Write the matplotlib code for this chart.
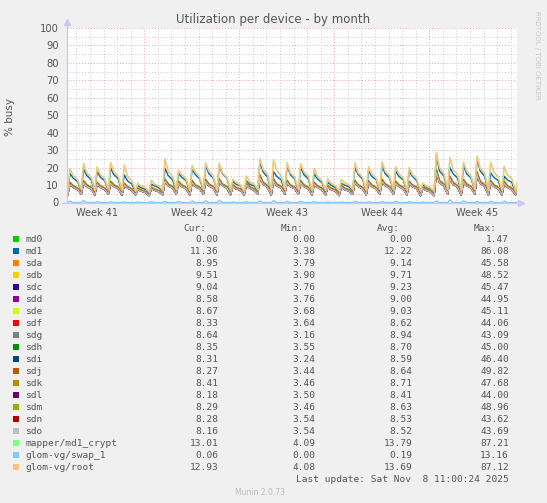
import numpy as np
import matplotlib
matplotlib.use('Agg')
import matplotlib.pyplot as plt
from matplotlib.patches import Rectangle
from matplotlib.lines import Line2D

W, H = 547, 503

# per-day readings (34 days, left to right)
root_peak = [19.0, 22.5, 20.0, 22.8, 21.5, 11.0, 12.5, 24.7, 18.5, 20.8, 22.5, 22.0, 13.4, 14.9, 24.8, 24.5, 22.5,
             22.0, 19.5, 13.4, 13.2, 22.5, 20.3, 23.0, 20.5, 19.7, 11.0, 28.5, 25.4, 22.8, 26.7, 22.8, 20.5, 13.0]
root_shoulder = [15.5, 17.0, 16.0, 17.5, 15.0, 9.5, 10.5, 18.0, 16.0, 17.5, 18.0, 17.0, 11.5, 12.0, 19.0, 18.5, 17.0,
                 17.5, 15.0, 11.0, 11.5, 17.0, 16.5, 18.0, 16.5, 16.0, 9.5, 20.0, 19.0, 18.0, 19.5, 17.5, 16.0, 12.0]
root_evening = [13.0, 14.5, 13.5, 15.0, 12.5, 8.5, 9.5, 15.0, 13.5, 14.5, 15.0, 14.5, 10.0, 10.5, 16.0, 15.5, 14.5,
                15.0, 12.5, 9.5, 10.0, 14.5, 14.0, 15.0, 14.0, 13.5, 8.5, 16.5, 16.0, 15.0, 16.5, 14.5, 13.5, 10.5]
root_low = [7.0, 7.5, 7.0, 7.5, 7.0, 6.5, 6.0, 7.0, 7.5, 7.0, 7.5, 7.0, 7.0, 6.5, 7.5, 7.0, 7.5,
            7.5, 7.0, 7.0, 6.5, 7.5, 7.0, 7.5, 7.5, 7.0, 6.5, 6.5, 7.5, 7.0, 7.5, 7.0, 7.0, 6.5]
mapper_peak = [19.5, 22.2, 20.4, 23.0, 21.2, 11.3, 12.8, 25.2, 18.3, 21.3, 22.8, 22.6, 13.2, 15.2, 25.2, 24.0, 22.9,
               22.4, 19.2, 13.7, 13.0, 22.9, 20.6, 23.4, 20.2, 20.1, 11.2, 28.2, 25.9, 23.2, 26.4, 23.3, 20.9, 13.2]
md1_peak = [16.7, 19.0, 17.7, 19.6, 15.8, 9.5, 10.5, 19.6, 16.7, 19.0, 21.0, 21.0, 12.0, 12.4, 23.3, 17.7, 21.0,
            20.0, 16.5, 11.5, 11.0, 20.0, 18.0, 21.0, 18.0, 18.0, 10.0, 26.7, 20.0, 21.0, 24.8, 17.0, 15.0, 11.0]
md1_shoulder = [14.0, 15.5, 14.5, 16.0, 12.5, 8.5, 9.5, 15.5, 14.5, 16.0, 16.5, 16.5, 10.5, 10.5, 17.5, 15.0, 16.0,
                16.0, 13.5, 10.0, 10.0, 16.0, 15.0, 16.5, 15.0, 15.0, 8.5, 18.0, 16.5, 16.5, 18.0, 14.5, 13.0, 10.0]
md1_evening = [12.0, 13.0, 12.5, 13.5, 10.5, 7.5, 8.5, 13.0, 12.5, 13.5, 14.0, 14.0, 9.5, 9.5, 14.5, 13.0, 13.5,
               13.5, 11.5, 8.5, 9.0, 13.5, 13.0, 14.0, 13.0, 12.5, 7.5, 15.0, 14.0, 14.0, 15.0, 12.5, 11.5, 9.0]
md1_low = [6.0, 6.5, 6.0, 6.5, 6.0, 5.5, 5.5, 6.0, 6.5, 6.0, 6.5, 6.5, 6.0, 6.0, 6.5, 6.0, 6.5,
           6.5, 6.0, 6.0, 5.5, 6.5, 6.0, 6.5, 6.5, 6.0, 5.5, 5.5, 6.5, 6.0, 6.5, 6.0, 6.0, 5.5]
sd_peak = [11.9, 12.9, 12.0, 12.5, 11.4, 8.5, 9.0, 14.0, 12.5, 13.0, 13.7, 14.0, 10.5, 11.4, 16.2, 14.0, 13.0,
           12.9, 12.0, 10.0, 10.2, 13.0, 12.9, 13.7, 12.5, 12.5, 9.2, 19.5, 15.5, 13.7, 18.0, 13.0, 12.5, 9.5]
sd_shoulder = [10.0, 10.5, 10.0, 10.5, 9.5, 7.5, 8.0, 11.0, 10.5, 10.5, 11.0, 11.0, 9.0, 9.5, 12.0, 11.0, 10.5,
               10.5, 10.0, 8.5, 8.5, 10.5, 10.5, 11.0, 10.5, 10.5, 8.0, 13.0, 12.0, 11.0, 12.5, 10.5, 10.0, 8.5]
sd_evening = [8.5, 9.0, 8.5, 9.0, 8.0, 6.5, 7.0, 9.5, 9.0, 9.0, 9.5, 9.5, 8.0, 8.0, 10.0, 9.5, 9.0,
              9.0, 8.5, 7.5, 7.5, 9.0, 9.0, 9.5, 9.0, 9.0, 7.0, 11.0, 10.0, 9.5, 10.5, 9.0, 8.5, 7.5]
sd_low = [5.0, 5.5, 5.0, 5.5, 5.0, 5.0, 4.5, 5.0, 5.5, 5.0, 5.5, 5.0, 5.0, 5.0, 5.5, 5.0, 5.5,
          5.5, 5.0, 5.0, 4.5, 5.5, 5.0, 5.5, 5.5, 5.0, 4.5, 4.5, 5.5, 5.0, 5.5, 5.0, 5.0, 5.0]
swap_peak = [0.8, 1.2, 0.6, 0.5, 0.4, 0.3, 0.5, 0.6, 0.7, 0.9, 1.0, 1.3, 0.4, 0.5, 0.9, 1.1, 0.7,
             0.8, 0.6, 0.4, 0.3, 0.7, 0.5, 0.6, 0.8, 0.5, 0.3, 0.9, 1.5, 1.0, 0.6, 0.8, 0.9, 0.5]

# legend table
names = ['md0', 'md1', 'sda', 'sdb', 'sdc', 'sdd', 'sde', 'sdf', 'sdg', 'sdh', 'sdi', 'sdj', 'sdk', 'sdl',
         'sdm', 'sdn', 'sdo', 'mapper/md1_crypt', 'glom-vg/swap_1', 'glom-vg/root']
colors = ['#00CC00', '#0066B3', '#FF8000', '#FFCC00', '#330099', '#990099', '#CCFF00', '#FF0000', '#808080',
          '#008F00', '#00487D', '#B35A00', '#B38F00', '#6B006B', '#8FB300', '#B30000', '#BEBEBE', '#80FF80',
          '#80C9FF', '#FFC080']
cur = [0.00, 11.36, 8.95, 9.51, 9.04, 8.58, 8.67, 8.33, 8.64, 8.35, 8.31, 8.27, 8.41, 8.18, 8.29, 8.28, 8.16,
       13.01, 0.06, 12.93]
mins = [0.00, 3.38, 3.79, 3.90, 3.76, 3.76, 3.68, 3.64, 3.16, 3.55, 3.24, 3.44, 3.46, 3.50, 3.46, 3.54, 3.54,
        4.09, 0.00, 4.08]
avgs = [0.00, 12.22, 9.14, 9.71, 9.23, 9.00, 9.03, 8.62, 8.94, 8.70, 8.59, 8.64, 8.71, 8.41, 8.63, 8.53, 8.52,
        13.79, 0.19, 13.69]
maxs = [1.47, 86.08, 45.58, 48.52, 45.47, 44.95, 45.11, 44.06, 43.09, 45.00, 46.40, 49.82, 47.68, 44.00, 48.96,
        43.62, 43.69, 87.21, 13.16, 87.12]

week_labels = ['Week 41', 'Week 42', 'Week 43', 'Week 44', 'Week 45']

TXT = '#555555'


def fx(x):
    return x / W


def fy(y):
    return 1 - y / H


days = np.arange(len(root_peak))
t = np.column_stack([days + 0.05, days + 0.22, days + 0.45, days + 0.78]).ravel()


def day_series(low, peak, sh, ev):
    return np.column_stack([low, peak, sh, ev]).ravel()


fig = plt.figure(figsize=(W / 100, H / 100), dpi=100, facecolor='#F0F0F0')
ax = fig.add_axes([fx(67), fy(202.5), (517 - 67) / W, 174.5 / H])
ax.set_facecolor('white')
x_end = 33.16
ax.set_xlim(0, x_end)
ax.set_ylim(0, 100)

# grid
for v in range(5, 100, 10):
    ax.axhline(v, color='#C8C8C8', lw=0.7, ls=(0, (1, 2)), zorder=0)
for v in range(10, 101, 10):
    ax.axhline(v, color='#F0A0A0', lw=0.7, ls=(0, (1, 2)), zorder=0)
week_lines = [5.70 + 7 * i for i in range(4)]
for d in np.arange(0.70, x_end, 1.0):
    if any(abs(d - w) < 0.01 for w in week_lines):
        continue
    ax.axvline(d, color='#C8C8C8', lw=0.7, ls=(0, (1, 2)), zorder=0)
for w in week_lines:
    ax.axvline(w, color='#F0A0A0', lw=0.7, ls=(0, (1, 2)), zorder=0)

lw = 1.0
zero = np.zeros(len(days))
series = {}
series['md0'] = np.zeros_like(t)
series['md1'] = day_series(md1_low, md1_peak, md1_shoulder, md1_evening)
sd_base = day_series(sd_low, sd_peak, sd_shoulder, sd_evening)
for n, a in zip(names[2:17], avgs[2:17]):
    series[n] = sd_base * a / avgs[3]
series['mapper/md1_crypt'] = day_series(root_low, mapper_peak, root_shoulder, root_evening)
series['glom-vg/swap_1'] = day_series(zero, swap_peak, zero, zero)
series['glom-vg/root'] = day_series(root_low, root_peak, root_shoulder, root_evening)

for n, c in zip(names, colors):
    ax.plot(t, series[n], color=c, lw=lw, clip_on=True, zorder=2)

for s in ['top', 'right', 'left', 'bottom']:
    ax.spines[s].set_visible(False)

ax.set_yticks(range(0, 101, 10))
ax.set_yticklabels([str(v) for v in range(0, 101, 10)], fontsize=7.2, color=TXT)
ax.set_xticks([w - 3.5 for w in week_lines] + [week_lines[-1] + 3.5])
ax.set_xticklabels(week_labels, fontsize=7, color=TXT)
ax.tick_params(length=0, pad=4)
ax.tick_params(axis='y', pad=6)

# axes with arrows
ac = '#C8C8F0'
fig.add_artist(Line2D([fx(67), fx(67)], [fy(202.5), fy(22)], color=ac, lw=0.9))
fig.add_artist(Line2D([fx(62), fx(521)], [fy(202.5), fy(202.5)], color=ac, lw=0.9))
fig.add_artist(Line2D([fx(67)], [fy(22)], marker='^', ms=4, color=ac, mec=ac))
fig.add_artist(Line2D([fx(521)], [fy(202.5)], marker='>', ms=4, color=ac, mec=ac))

fig.text(0.5, fy(19), 'Utilization per device - by month', ha='center', va='center', fontsize=8.5, color=TXT)
fig.text(fx(10), fy(117), '% busy', ha='center', va='center', rotation=90, fontsize=7.5, color=TXT)
fig.text(fx(537), fy(55), 'RRDTOOL / TOBI OETIKER', ha='center', va='center', rotation=270,
         fontsize=5, color='#C8C8C8')

# legend table
mono = 'DejaVu Sans Mono'
fs = 6.8
y0 = 239.3
step = 12.0
hy = 228.3
for txt, xr in zip(['Cur:', 'Min:', 'Avg:', 'Max:'], [206.7, 304, 400, 497]):
    fig.text(fx(xr), fy(hy), txt, ha='right', va='center', family=mono, fontsize=fs, color=TXT)
for i, n in enumerate(names):
    y = y0 + i * step
    fig.add_artist(Rectangle((fx(13), fy(y + 3)), 6 / W, 6 / H, transform=fig.transFigure,
                             facecolor=colors[i], edgecolor='none'))
    fig.text(fx(25), fy(y), n, ha='left', va='center', family=mono, fontsize=fs, color=TXT)
    for v, xr in zip([cur[i], mins[i], avgs[i], maxs[i]], [218.3, 315.7, 412.3, 509]):
        fig.text(fx(xr), fy(y), f'{v:.2f}', ha='right', va='center', family=mono, fontsize=fs, color=TXT)

fig.text(fx(509), fy(479.3), 'Last update: Sat Nov  8 11:00:24 2025', ha='right', va='center',
         family=mono, fontsize=fs, color=TXT)
fig.text(fx(260), fy(492.3), 'Munin 2.0.73', ha='center', va='center', fontsize=5.5, color='#BBBBBB')

fig.savefig('out.png', dpi=100, facecolor=fig.get_facecolor())
